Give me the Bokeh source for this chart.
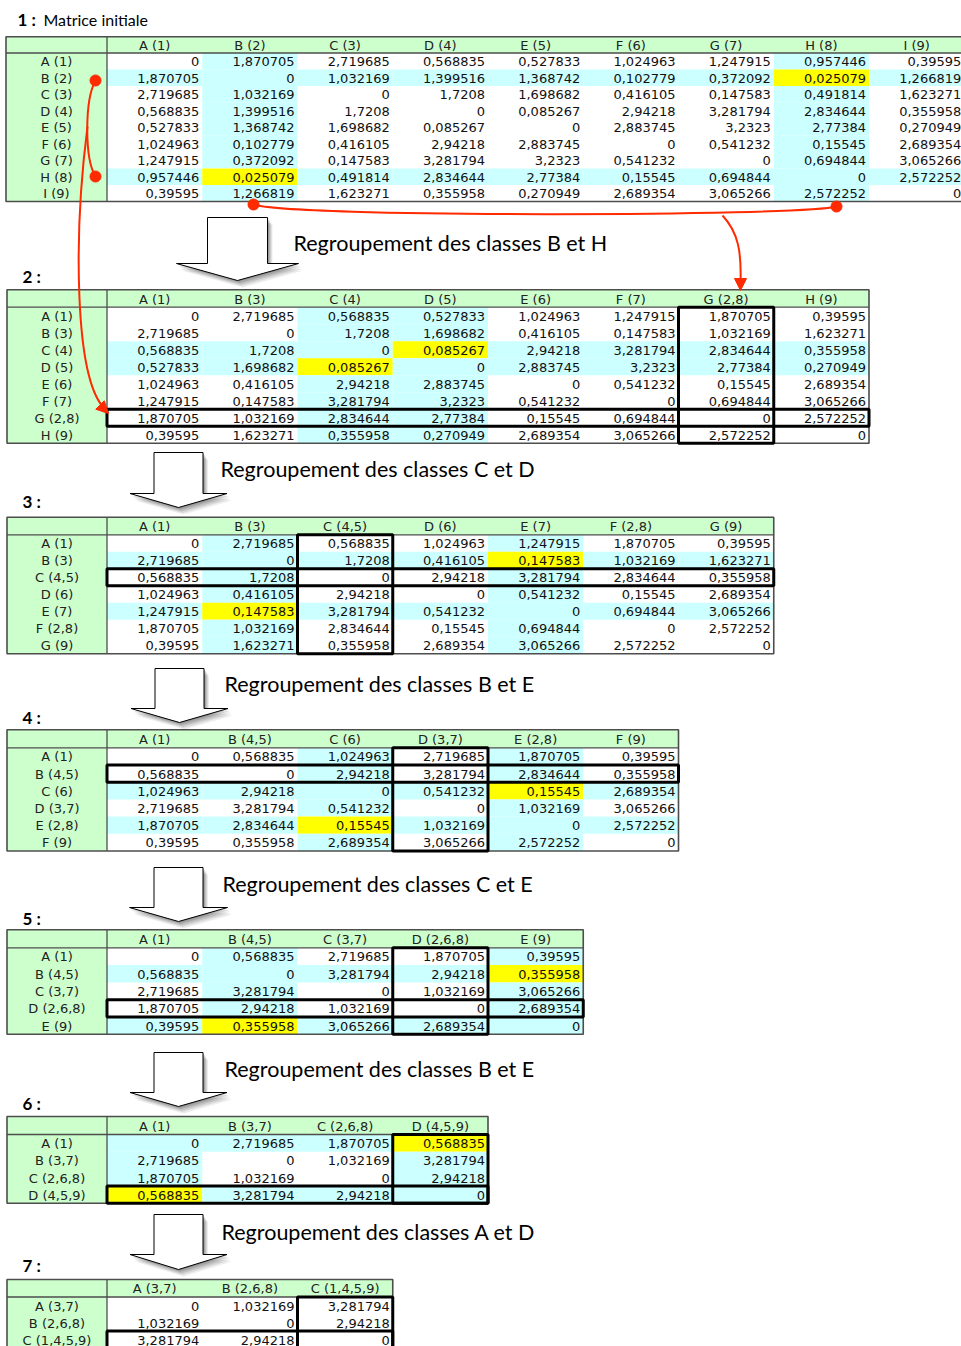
from bokeh.plotting import figure
from bokeh.models import Range1d, ColumnDataSource, Arrow, NormalHead
from bokeh.embed import file_html
from bokeh.resources import INLINE
from bokeh.core.properties import value

# ---------------- DATA ----------------
t1_labels = ["A (1)", "B (2)", "C (3)", "D (4)", "E (5)", "F (6)", "G (7)", "H (8)", "I (9)"]
t1_values = [
    [0, 1.870705, 2.719685, 0.568835, 0.527833, 1.024963, 1.247915, 0.957446, 0.39595],
    [1.870705, 0, 1.032169, 1.399516, 1.368742, 0.102779, 0.372092, 0.025079, 1.266819],
    [2.719685, 1.032169, 0, 1.7208, 1.698682, 0.416105, 0.147583, 0.491814, 1.623271],
    [0.568835, 1.399516, 1.7208, 0, 0.085267, 2.94218, 3.281794, 2.834644, 0.355958],
    [0.527833, 1.368742, 1.698682, 0.085267, 0, 2.883745, 3.2323, 2.77384, 0.270949],
    [1.024963, 0.102779, 0.416105, 2.94218, 2.883745, 0, 0.541232, 0.15545, 2.689354],
    [1.247915, 0.372092, 0.147583, 3.281794, 3.2323, 0.541232, 0, 0.694844, 3.065266],
    [0.957446, 0.025079, 0.491814, 2.834644, 2.77384, 0.15545, 0.694844, 0, 2.572252],
    [0.39595, 1.266819, 1.623271, 0.355958, 0.270949, 2.689354, 3.065266, 2.572252, 0],
]
t2_labels = ["A (1)", "B (3)", "C (4)", "D (5)", "E (6)", "F (7)", "G (2,8)", "H (9)"]
t2_values = [
    [0, 2.719685, 0.568835, 0.527833, 1.024963, 1.247915, 1.870705, 0.39595],
    [2.719685, 0, 1.7208, 1.698682, 0.416105, 0.147583, 1.032169, 1.623271],
    [0.568835, 1.7208, 0, 0.085267, 2.94218, 3.281794, 2.834644, 0.355958],
    [0.527833, 1.698682, 0.085267, 0, 2.883745, 3.2323, 2.77384, 0.270949],
    [1.024963, 0.416105, 2.94218, 2.883745, 0, 0.541232, 0.15545, 2.689354],
    [1.247915, 0.147583, 3.281794, 3.2323, 0.541232, 0, 0.694844, 3.065266],
    [1.870705, 1.032169, 2.834644, 2.77384, 0.15545, 0.694844, 0, 2.572252],
    [0.39595, 1.623271, 0.355958, 0.270949, 2.689354, 3.065266, 2.572252, 0],
]
t3_labels = ["A (1)", "B (3)", "C (4,5)", "D (6)", "E (7)", "F (2,8)", "G (9)"]
t3_values = [
    [0, 2.719685, 0.568835, 1.024963, 1.247915, 1.870705, 0.39595],
    [2.719685, 0, 1.7208, 0.416105, 0.147583, 1.032169, 1.623271],
    [0.568835, 1.7208, 0, 2.94218, 3.281794, 2.834644, 0.355958],
    [1.024963, 0.416105, 2.94218, 0, 0.541232, 0.15545, 2.689354],
    [1.247915, 0.147583, 3.281794, 0.541232, 0, 0.694844, 3.065266],
    [1.870705, 1.032169, 2.834644, 0.15545, 0.694844, 0, 2.572252],
    [0.39595, 1.623271, 0.355958, 2.689354, 3.065266, 2.572252, 0],
]
t4_labels = ["A (1)", "B (4,5)", "C (6)", "D (3,7)", "E (2,8)", "F (9)"]
t4_values = [
    [0, 0.568835, 1.024963, 2.719685, 1.870705, 0.39595],
    [0.568835, 0, 2.94218, 3.281794, 2.834644, 0.355958],
    [1.024963, 2.94218, 0, 0.541232, 0.15545, 2.689354],
    [2.719685, 3.281794, 0.541232, 0, 1.032169, 3.065266],
    [1.870705, 2.834644, 0.15545, 1.032169, 0, 2.572252],
    [0.39595, 0.355958, 2.689354, 3.065266, 2.572252, 0],
]
t5_labels = ["A (1)", "B (4,5)", "C (3,7)", "D (2,6,8)", "E (9)"]
t5_values = [
    [0, 0.568835, 2.719685, 1.870705, 0.39595],
    [0.568835, 0, 3.281794, 2.94218, 0.355958],
    [2.719685, 3.281794, 0, 1.032169, 3.065266],
    [1.870705, 2.94218, 1.032169, 0, 2.689354],
    [0.39595, 0.355958, 3.065266, 2.689354, 0],
]
t6_labels = ["A (1)", "B (3,7)", "C (2,6,8)", "D (4,5,9)"]
t6_values = [
    [0, 2.719685, 1.870705, 0.568835],
    [2.719685, 0, 1.032169, 3.281794],
    [1.870705, 1.032169, 0, 2.94218],
    [0.568835, 3.281794, 2.94218, 0],
]
t7_labels = ["A (3,7)", "B (2,6,8)", "C (1,4,5,9)"]
t7_values = [
    [0, 1.032169, 3.281794],
    [1.032169, 0, 2.94218],
    [3.281794, 2.94218, 0],
]
# pair of classes with the smallest distance (merged next), None for the last one
merge_pairs = [(1, 7), (2, 3), (1, 4), (2, 4), (1, 4), (0, 3), None]
# (boxed row, boxed column) = class created by the previous merge
boxed = [None, (6, 6), (2, 2), (1, 3), (3, 3), (3, 3), (2, 2)]
first_title = "Matrice initiale"

all_labels = [t1_labels, t2_labels, t3_labels, t4_labels, t5_labels, t6_labels, t7_labels]
all_values = [t1_values, t2_values, t3_values, t4_values, t5_values, t6_values, t7_values]

# ---------------- LAYOUT ----------------
W, H = 961, 1346
GREEN = "#ccffcc"
CYAN = "#ccffff"
YELLOW = "#ffff00"
GRID = "#4d4d4d"
RED = "#ff2a00"
CELL_FONT = value("DejaVu Sans")
TITLE_FONT = value("Lato")

tops = [36.3, 289.3, 516.7, 729.3, 929.3, 1116.0, 1279.0]
head_h = [16.2, 17.4, 17.6, 18.0, 18.0, 18.0, 17.5]
row_h = [16.5, 17.0, 17.0, 17.2, 17.3, 17.2, 17.0]
num_pos = [(17, 19), (22, 276), (22, 501), (22, 717), (22, 918), (22, 1103), (22, 1265)]
x_left = 6.5
label_right = 106.5
col_w = 95.25

# big arrows: (center x, shaft half width, head half width, top, neck, tip)
big_arrows = [
    (237, 30, 61, 217, 263, 280),
    (178, 24.5, 48.5, 452, 493, 507),
    (179, 24.5, 48.5, 668, 708, 722),
    (178, 24.5, 49, 867, 907, 921),
    (178, 24.5, 48.5, 1052, 1092, 1106),
    (178, 24.5, 48.5, 1214, 1254, 1269),
]
step_text_pos = [(293, 242), (220, 468), (224, 683), (222, 883), (224, 1068), (221, 1231)]

p = figure(width=W, height=H, x_range=Range1d(0, W), y_range=Range1d(H, 0),
           output_backend="svg", toolbar_location=None, min_border=0,
           x_axis_location=None, y_axis_location=None)
p.grid.visible = False
p.outline_line_color = None
p.background_fill_color = "white"
p.border_fill_color = "white"


def fmt(v):
    if v == 0:
        return "0"
    return repr(float(v)).replace(".", ",")


quads = dict(left=[], right=[], top=[], bottom=[], color=[])
vals_txt = dict(x=[], y=[], t=[])
head_txt = dict(x=[], y=[], t=[])
segs = dict(x0=[], y0=[], x1=[], y1=[])
outer = dict(left=[], right=[], top=[], bottom=[])
boxes = dict(left=[], right=[], top=[], bottom=[])

for k, (labels, vals) in enumerate(zip(all_labels, all_values)):
    n = len(labels)
    top = tops[k]
    hb = top + head_h[k]
    bottom = hb + n * row_h[k]
    xl = x_left - (1 if k == 0 else 0)
    right = label_right + n * col_w
    pair = merge_pairs[k]
    # green header + label column
    quads["left"] += [xl, xl]
    quads["right"] += [right, label_right]
    quads["top"] += [top, hb]
    quads["bottom"] += [hb, bottom]
    quads["color"] += [GREEN, GREEN]
    for r in range(n):
        rt = hb + r * row_h[k]
        for c in range(n):
            cl = label_right + c * col_w
            if pair is not None and (r, c) in (pair, pair[::-1]):
                colr = YELLOW
            elif pair is not None and (r in pair or c in pair):
                colr = CYAN
            else:
                colr = None
            if colr:
                quads["left"].append(cl)
                quads["right"].append(cl + col_w)
                quads["top"].append(rt)
                quads["bottom"].append(rt + row_h[k])
                quads["color"].append(colr)
            vals_txt["x"].append(cl + col_w - 3)
            vals_txt["y"].append(rt + row_h[k] / 2 + 0.5)
            vals_txt["t"].append(fmt(vals[r][c]))
        head_txt["x"].append((xl + label_right) / 2)
        head_txt["y"].append(rt + row_h[k] / 2 + 0.5)
        head_txt["t"].append(labels[r])
    for c in range(n):
        head_txt["x"].append(label_right + (c + 0.5) * col_w)
        head_txt["y"].append(top + head_h[k] / 2 + 0.5)
        head_txt["t"].append(labels[c])
    outer["left"].append(xl)
    outer["right"].append(right)
    outer["top"].append(top)
    outer["bottom"].append(bottom)
    segs["x0"] += [xl, label_right]
    segs["y0"] += [hb, top]
    segs["x1"] += [right, label_right]
    segs["y1"] += [hb, bottom]
    if boxed[k] is not None:
        br, bc = boxed[k]
        boxes["left"] += [label_right, label_right + bc * col_w]
        boxes["right"] += [right, label_right + (bc + 1) * col_w]
        boxes["top"] += [hb + br * row_h[k], hb]
        boxes["bottom"] += [hb + (br + 1) * row_h[k], bottom]

p.quad(source=ColumnDataSource(quads), left="left", right="right", top="top", bottom="bottom",
       fill_color="color", line_color=None)
p.segment(source=ColumnDataSource(segs), x0="x0", y0="y0", x1="x1", y1="y1",
          line_color=GRID, line_width=1.3)
p.quad(source=ColumnDataSource(outer), left="left", right="right", top="top", bottom="bottom",
       fill_color=None, line_color=GRID, line_width=1.6)
p.text(source=ColumnDataSource(vals_txt), x="x", y="y", text="t", text_font=CELL_FONT,
       text_font_size="13px", text_align="right", text_baseline="middle", text_color="#111111")
p.text(source=ColumnDataSource(head_txt), x="x", y="y", text="t", text_font=CELL_FONT,
       text_font_size="13px", text_align="center", text_baseline="middle", text_color="#222222")
p.quad(source=ColumnDataSource(boxes), left="left", right="right", top="top", bottom="bottom",
       fill_color=None, line_color="black", line_width=3)

# table numbers and titles
for k, (nx, ny) in enumerate(num_pos):
    p.text(x=[nx], y=[ny], text=["%d :" % (k + 1)], text_font=TITLE_FONT, text_font_size="17px",
           text_font_style="bold", text_baseline="middle", text_color="black")
p.text(x=[num_pos[0][0] + 26], y=[num_pos[0][1]], text=[first_title], text_font=TITLE_FONT,
       text_font_size="16px", text_baseline="middle", text_color="black")

# big hollow arrows with shadow and step captions
letters = "ABCDEFGHI"
for k, (cx, sw, hw, t0, nk, tip) in enumerate(big_arrows):
    xs = [cx - sw, cx + sw, cx + sw, cx + hw, cx, cx - hw, cx - sw]
    ys = [t0, t0, nk, nk, tip, nk, nk]
    for dx, dy, a in [(5, 7, 0.07), (4, 5.5, 0.09), (3, 4, 0.11), (2, 2.5, 0.13), (1, 1, 0.15)]:
        p.patch([x + dx for x in xs], [y + dy for y in ys], fill_color="black", fill_alpha=a,
                line_color=None)
    p.patch(xs, ys, fill_color="white", line_color="black", line_width=1)
    a, b = merge_pairs[k]
    tx, ty = step_text_pos[k]
    p.text(x=[tx], y=[ty], text=["Regroupement des classes %s et %s" % (letters[a], letters[b])],
           text_font=TITLE_FONT, text_font_size="21.5px", text_baseline="middle", text_color="black")

# red annotations showing the merge of B(2) and H(8)
p.bezier(x0=[95, 87], y0=[80, 126], x1=[95, 103], y1=[176, 407],
         cx0=[84, 73], cy0=[100, 235], cx1=[84, 74], cy1=[158, 375],
         line_color=RED, line_width=2)
p.bezier(x0=[253, 722], y0=[204, 215], x1=[836, 740], y1=[206, 282],
         cx0=[285, 738], cy0=[217, 232], cx1=[800, 741], cy1=[216, 252],
         line_color=RED, line_width=2)
p.scatter(x=[95, 95, 253, 836], y=[80, 176, 204, 206], size=11, marker="circle",
          fill_color=RED, line_color=RED)
p.add_layout(Arrow(end=NormalHead(size=12, fill_color=RED, line_color=RED), x_start=80, y_start=385,
                   x_end=108, y_end=413, line_alpha=0))
p.add_layout(Arrow(end=NormalHead(size=12, fill_color=RED, line_color=RED), x_start=740, y_start=260,
                   x_end=740, y_end=290, line_alpha=0))

open("out.html", "w").write(file_html(p, INLINE))
